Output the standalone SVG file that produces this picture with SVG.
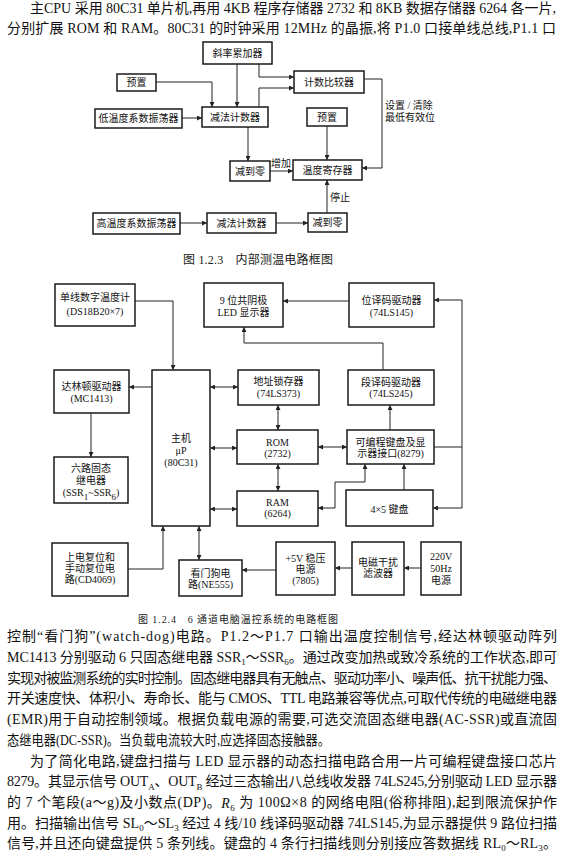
<svg xmlns="http://www.w3.org/2000/svg" width="563" height="852" viewBox="0 0 563 852">
<style>
.bg{fill:#fff}
.box{fill:#fff;stroke:#1a1a1a;stroke-width:1.5}
.t{font-family:"Liberation Serif","Noto Sans CJK SC",serif;font-size:10px;fill:#111;text-anchor:middle;dominant-baseline:central}
.l{font-family:"Liberation Serif","Noto Sans CJK SC",serif;font-size:10px;fill:#111;dominant-baseline:central}
.cap{font-family:"Liberation Serif","Noto Sans CJK SC",serif;font-size:12px;fill:#222;dominant-baseline:central}
.cap2{font-family:"Liberation Serif","Noto Sans CJK SC",serif;font-size:10px;fill:#222;dominant-baseline:central}
.p{font-family:"Liberation Serif","Noto Sans CJK SC",serif;font-size:14px;fill:#111;dominant-baseline:central}
.c{fill:none;stroke:#222;stroke-width:1;marker-end:url(#a)}
.d{fill:none;stroke:#222;stroke-width:1;marker-end:url(#a);marker-start:url(#a)}
.s{font-size:9px;baseline-shift:sub}
</style>
<defs>
<marker id="a" viewBox="0 0 10 10" refX="10" refY="5" markerUnits="userSpaceOnUse" markerWidth="7" markerHeight="5" orient="auto-start-reverse"><path d="M0,0 L10,5 L0,10 z" fill="#222"/></marker>
</defs>
<rect class="bg" x="0" y="0" width="563" height="852"/>

<g id="text-top">
<text class="p" x="30" y="8" textLength="526" lengthAdjust="spacing">主CPU 采用 80C31 单片机,再用 4KB 程序存储器 2732 和 8KB 数据存储器 6264 各一片,</text>
<text class="p" x="7" y="28" textLength="549" lengthAdjust="spacing">分别扩展 ROM 和 RAM。80C31 的时钟采用 12MHz 的晶振,将 P1.0 口接单线总线,P1.1 口</text>
</g>

<!-- Figure 1.2.3 -->
<g id="n-slope"><rect class="box" x="203" y="42" width="69" height="22"/><text class="t" x="237.5" y="53">斜率累加器</text></g>
<g id="n-preset1"><rect class="box" x="117" y="74" width="39" height="17"/><text class="t" x="136.5" y="82.5">预置</text></g>
<g id="n-lowosc"><rect class="box" x="95" y="109" width="87" height="19"/><text class="t" x="138.5" y="118.5">低温度系数振荡器</text></g>
<g id="n-sub1"><rect class="box" x="202" y="107" width="66" height="20"/><text class="t" x="235" y="117">减法计数器</text></g>
<g id="n-cmp"><rect class="box" x="294" y="71" width="70" height="22"/><text class="t" x="329" y="82">计数比较器</text></g>
<g id="n-preset2"><rect class="box" x="307" y="108" width="40" height="18"/><text class="t" x="327" y="117">预置</text></g>
<g id="n-zero1"><rect class="box" x="230" y="161" width="40" height="20"/><text class="t" x="250" y="171">减到零</text></g>
<g id="n-treg"><rect class="box" x="293" y="160" width="69" height="20"/><text class="t" x="327.5" y="170">温度寄存器</text></g>
<g id="n-highosc"><rect class="box" x="93" y="213" width="87" height="21"/><text class="t" x="136.5" y="223.5">高温度系数振荡器</text></g>
<g id="n-sub2"><rect class="box" x="207" y="213" width="69" height="20"/><text class="t" x="241.5" y="223">减法计数器</text></g>
<g id="n-zero2"><rect class="box" x="308" y="213" width="39" height="19"/><text class="t" x="327.5" y="222.5">减到零</text></g>

<g id="connectors-1">
<path class="c" d="M237,64 V107"/>
<path class="c" d="M259,64 V77 H294"/>
<path class="c" d="M259,107 V88 H294"/>
<path class="c" d="M156,82 H212 V107"/>
<path class="c" d="M182,118 H202"/>
<path class="c" d="M248,127 V161"/>
<path class="c" d="M270,171 H293"/>
<path class="c" d="M364,79 H382 V168 H362"/>
<path class="c" d="M327,126 V160"/>
<path class="c" d="M327,213 V180"/>
<path class="c" d="M180,223 H207"/>
<path class="c" d="M276,223 H308"/>
<text class="l" x="271" y="163">增加</text>
<text class="l" x="385" y="105">设置 / 清除</text>
<text class="l" x="385" y="117">最低有效位</text>
<text class="l" x="330" y="197">停止</text>
</g>
<text class="cap" x="183" y="260" textLength="150" lengthAdjust="spacing">图 1.2.3　内部测温电路框图</text>

<!-- Figure 1.2.4 -->
<g id="n-ds18b20"><rect class="box" x="55" y="284" width="80" height="42"/><text class="t" x="95" y="297">单线数字温度计</text><text class="t" x="95" y="311">(DS18B20×7)</text></g>
<g id="n-led"><rect class="box" x="204" y="283" width="79" height="44"/><text class="t" x="243.5" y="300">9 位共阴极</text><text class="t" x="243.5" y="312">LED 显示器</text></g>
<g id="n-bitdrv"><rect class="box" x="349" y="283" width="85" height="44"/><text class="t" x="391.5" y="300">位译码驱动器</text><text class="t" x="391.5" y="312">(74LS145)</text></g>
<g id="n-darl"><rect class="box" x="54" y="370" width="75" height="43"/><text class="t" x="91.5" y="386">达林顿驱动器</text><text class="t" x="91.5" y="398">(MC1413)</text></g>
<g id="n-cpu"><rect class="box" x="152" y="370" width="58" height="156"/><text class="t" x="181" y="438">主机</text><text class="t" x="181" y="450">μP</text><text class="t" x="181" y="462">(80C31)</text></g>
<g id="n-latch"><rect class="box" x="238" y="370" width="81" height="35"/><text class="t" x="278.5" y="381">地址锁存器</text><text class="t" x="278.5" y="393">(74LS373)</text></g>
<g id="n-segdrv"><rect class="box" x="348" y="370" width="86" height="35"/><text class="t" x="391" y="382">段译码驱动器</text><text class="t" x="391" y="393">(74LS245)</text></g>
<g id="n-rom"><rect class="box" x="237" y="430" width="81" height="34"/><text class="t" x="277.5" y="442">ROM</text><text class="t" x="277.5" y="453">(2732)</text></g>
<g id="n-8279"><rect class="box" x="347" y="430" width="87" height="34"/><text class="t" x="390.5" y="442">可编程键盘及显</text><text class="t" x="390.5" y="453">示器接口(8279)</text></g>
<g id="n-ssr"><rect class="box" x="54" y="457" width="74" height="46"/><text class="t" x="91" y="468">六路固态</text><text class="t" x="91" y="480">继电器</text><text class="t" x="91" y="492">(SSR<tspan class="s">1</tspan>~SSR<tspan class="s">6</tspan>)</text></g>
<g id="n-ram"><rect class="box" x="237" y="491" width="81" height="35"/><text class="t" x="277.5" y="502">RAM</text><text class="t" x="277.5" y="513">(6264)</text></g>
<g id="n-kbd"><rect class="box" x="346" y="490" width="87" height="36"/><text class="t" x="389.5" y="509">4×5 键盘</text></g>
<g id="n-reset"><rect class="box" x="52" y="543" width="76" height="53"/><text class="t" x="90" y="557">上电复位和</text><text class="t" x="90" y="568">手动复位电</text><text class="t" x="90" y="579">路(CD4069)</text></g>
<g id="n-wdt"><rect class="box" x="179" y="560" width="63" height="36"/><text class="t" x="210.5" y="573">看门狗电</text><text class="t" x="210.5" y="584">路(NE555)</text></g>
<g id="n-psu"><rect class="box" x="276" y="542" width="59" height="53"/><text class="t" x="305.5" y="558">+5V 稳压</text><text class="t" x="305.5" y="569">电源</text><text class="t" x="305.5" y="580">(7805)</text></g>
<g id="n-emi"><rect class="box" x="352" y="542" width="52" height="53"/><text class="t" x="378" y="562">电磁干扰</text><text class="t" x="378" y="573">滤波器</text></g>
<g id="n-mains"><rect class="box" x="421" y="542" width="40" height="53"/><text class="t" x="441" y="556">220V</text><text class="t" x="441" y="568">50Hz</text><text class="t" x="441" y="580">电源</text></g>

<g id="connectors-2">
<path class="c" d="M135,301 H173 V370"/>
<path class="c" d="M152,387 H129"/>
<path class="c" d="M91,413 V457"/>
<path class="d" d="M210,387 H238"/>
<path class="d" d="M210,448 H237"/>
<path class="d" d="M210,509 H237"/>
<path class="d" d="M278,405 V430"/>
<path class="d" d="M278,464 V491"/>
<path class="d" d="M318,447 H347"/>
<path class="d" d="M318,508 H335 V482 H365 V464"/>
<path class="c" d="M404,490 V464"/>
<path class="c" d="M434,447 H462 V300 H434"/>
<path class="c" d="M462,447 V508 H433"/>
<path class="c" d="M349,301 H283"/>
<path class="c" d="M383,370 V343 H244 V327"/>
<path class="c" d="M390,430 V405"/>
<path class="d" d="M199,526 V560"/>
<path class="c" d="M128,569 H163 V526"/>
<path class="c" d="M276,570 H242"/>
<path class="c" d="M352,568 H335"/>
<path class="c" d="M421,568 H404"/>
</g>
<text class="cap2" x="138" y="619" textLength="200" lengthAdjust="spacing">图 1.2.4　6 通道电脑温控系统的电路框图</text>

<g id="text-bottom">
<text class="p" x="7" y="636" textLength="550" lengthAdjust="spacing">控制“看门狗”(watch-dog)电路。P1.2～P1.7 口输出温度控制信号,经达林顿驱动阵列</text>
<text class="p" x="7" y="657" textLength="550" lengthAdjust="spacing">MC1413 分别驱动 6 只固态继电器 SSR<tspan class="s">1</tspan>～SSR<tspan class="s">6</tspan>。通过改变加热或致冷系统的工作状态,即可</text>
<text class="p" x="7" y="678" textLength="550" lengthAdjust="spacing">实现对被监测系统的实时控制。固态继电器具有无触点、驱动功率小、噪声低、抗干扰能力强、</text>
<text class="p" x="7" y="698.5" textLength="550" lengthAdjust="spacing">开关速度快、体积小、寿命长、能与 CMOS、TTL 电路兼容等优点,可取代传统的电磁继电器</text>
<text class="p" x="7" y="719" textLength="550" lengthAdjust="spacing">(EMR)用于自动控制领域。根据负载电源的需要,可选交流固态继电器(AC-SSR)或直流固</text>
<text class="p" x="7" y="740" textLength="323" lengthAdjust="spacingAndGlyphs">态继电器(DC-SSR)。当负载电流较大时,应选择固态接触器。</text>
<text class="p" x="30" y="761" textLength="527" lengthAdjust="spacing">为了简化电路,键盘扫描与 LED 显示器的动态扫描电路合用一片可编程键盘接口芯片</text>
<text class="p" x="7" y="781.5" textLength="550" lengthAdjust="spacing">8279。其显示信号 OUT<tspan class="s">A</tspan>、OUT<tspan class="s">B</tspan> 经过三态输出八总线收发器 74LS245,分别驱动 LED 显示器</text>
<text class="p" x="7" y="802.5" textLength="550" lengthAdjust="spacing">的 7 个笔段(a～g)及小数点(DP)。<tspan font-style="italic">R</tspan><tspan class="s">6</tspan> 为 100Ω×8 的网络电阻(俗称排阻),起到限流保护作</text>
<text class="p" x="7" y="823" textLength="550" lengthAdjust="spacing">用。扫描输出信号 SL<tspan class="s">0</tspan>～SL<tspan class="s">3</tspan> 经过 4 线/10 线译码驱动器 74LS145,为显示器提供 9 路位扫描</text>
<text class="p" x="7" y="843" textLength="550" lengthAdjust="spacing">信号,并且还向键盘提供 5 条列线。键盘的 4 条行扫描线则分别接应答数据线 RL<tspan class="s">0</tspan>～RL<tspan class="s">3</tspan>。</text>
</g>
</svg>
